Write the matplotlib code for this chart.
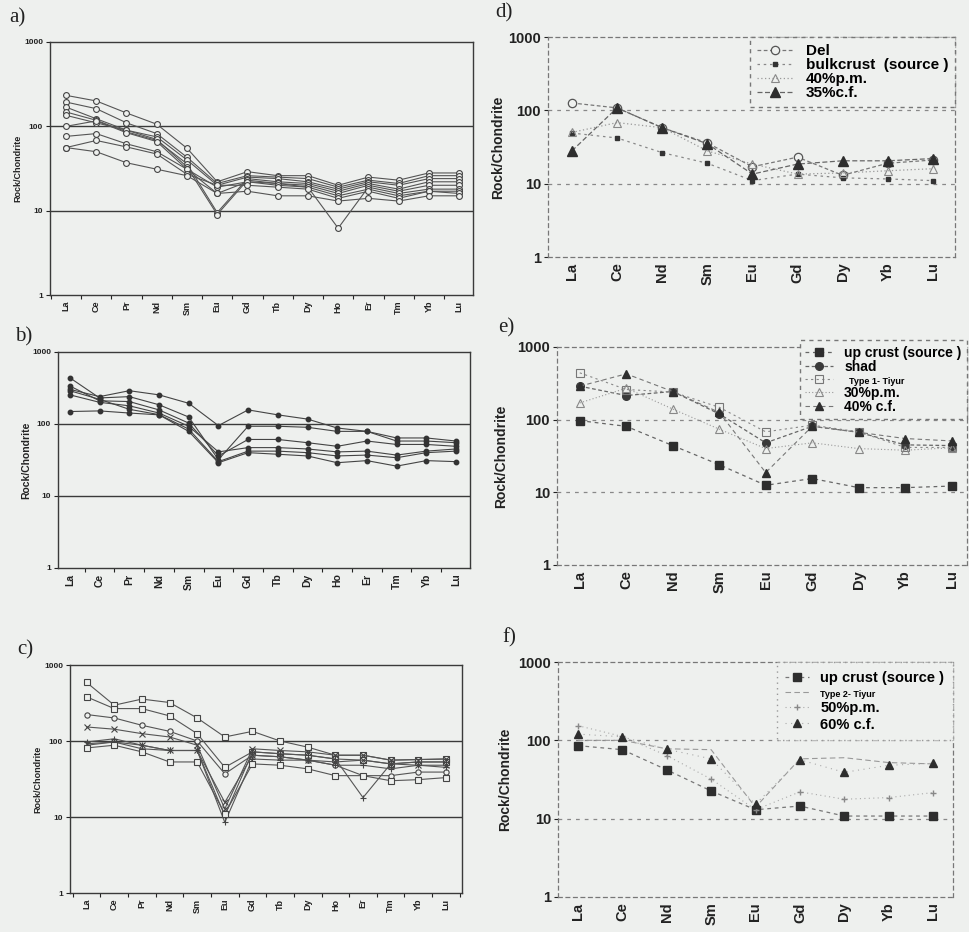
import matplotlib
matplotlib.use("Agg")
import matplotlib.pyplot as plt
from matplotlib.ticker import FixedLocator, FixedFormatter, NullLocator

plt.rcParams["font.family"] = ["Liberation Sans", "DejaVu Sans"]

# ---- data (chondrite-normalised REE) ----
ree14 = ["La", "Ce", "Pr", "Nd", "Sm", "Eu", "Gd", "Tb", "Dy", "Ho", "Er", "Tm", "Yb", "Lu"]
ree9 = ["La", "Ce", "Nd", "Sm", "Eu", "Gd", "Dy", "Yb", "Lu"]

# a) samples
a_samples = [
    [233, 200, 144, 106, 55, 22, 29, 26, 26, 20, 25, 23, 28, 28],
    [194, 162, 110, 82, 43, 21, 26, 25, 24, 19, 23, 21, 26, 26],
    [169, 123, 90, 75, 40, 20, 25, 24, 22, 18, 22, 20, 24, 24],
    [148, 118, 86, 68, 36, 9.5, 24, 22, 21, 17, 21, 18, 22, 22],
    [135, 110, 90, 70, 33, 9.0, 23, 21, 20, 16, 20, 17, 20, 20],
    [100, 116, 84, 66, 31, 16, 22, 21, 19, 6.2, 19, 16, 18, 18],
    [76, 82, 62, 50, 31, 19, 22, 20, 19, 15, 18, 15, 17, 17],
    [56, 68, 57, 47, 27, 20, 20, 19, 18, 14, 17, 14, 17, 16],
    [56, 50, 37, 31, 26, 16, 17, 15, 15, 13, 14, 13, 15, 15],
]

# b) samples
b_samples = [
    [303, 240, 290, 254, 194, 95, 157, 134, 117, 88, 79, 64, 64, 58],
    [438, 230, 240, 185, 125, 32, 93, 93, 90, 79, 79, 58, 58, 55],
    [337, 210, 205, 157, 103, 36, 61, 61, 55, 49, 58, 52, 52, 49],
    [254, 200, 179, 142, 93, 41, 47, 47, 45, 41, 42, 37, 42, 45],
    [290, 220, 160, 135, 85, 30, 42, 42, 40, 36, 37, 34, 40, 42],
    [149, 152, 142, 134, 79, 29, 40, 38, 36, 29, 31, 26, 31, 30],
]

# c) samples and their marker
c_samples = [
    [590, 296, 356, 321, 201, 113, 134, 100, 83, 65, 65, 56, 57, 58],
    [381, 267, 267, 214, 125, 45, 72, 68, 65, 58, 56, 50, 53, 53],
    [223, 201, 161, 134, 100, 37, 65, 62, 56, 48, 35, 35, 39, 39],
    [153, 143, 125, 113, 88, 12.8, 79, 75, 72, 65, 65, 56, 57, 58],
    [97, 107, 88, 75, 75, 10.4, 72, 68, 65, 58, 18, 50, 53, 53],
    [92, 97, 88, 75, 75, 15.6, 65, 62, 56, 53, 56, 50, 48, 48],
    [88, 97, 79, 75, 75, 8.5, 58, 56, 56, 48, 48, 43, 48, 45],
    [81, 88, 72, 53, 53, 11, 50, 48, 43, 35, 35, 30, 31, 33],
]
c_markers = ["s", "s", "o", "x", "+", "x", "+", "s"]

# d) model
d_del = [126, 108, 58, 36, 17, 23, 13, 19, 21]
d_bulkcrust = [49, 42, 26.5, 19, 11, 13.5, 12, 11.6, 11]
d_pm40 = [50, 68, 58, 28, 18.5, 13.5, 14, 15, 16]
d_cf35 = [28, 108, 58, 35, 13.5, 18.5, 20.5, 20.5, 22]

# e) model
e_upcrust = [97, 81, 44, 24, 12.5, 15.5, 11.6, 11.6, 12.2]
e_shad = [289, 215, 244, 120, 48, 81, 67, 45, 44]
e_type1 = [441, 260, 240, 148, 68, 84, 68, 41.5, 41.5]
e_pm30 = [170, 271, 140, 74, 40, 48, 40, 38, 41]
e_cf40 = [289, 427, 244, 126, 18.7, 81, 67, 55, 51]

# f) model
f_upcrust = [85.5, 76, 42, 22.6, 13, 14.5, 10.8, 10.8, 10.8]
f_type2 = [100, 100, 78, 76, 14, 58, 60, 52, 50]
f_pm50 = [154, 112, 64, 32, 13, 22, 17.7, 18.6, 21.5]
f_cf60 = [120, 111, 77, 58, 15.3, 56.5, 39, 48, 51]

BG = "#eef0ee"
INK = "#222222"
W, H = 969, 932


def box(x0, y0, x1, y1):
    return [x0 / W, 1 - y1 / H, (x1 - x0) / W, (y1 - y0) / H]


def setup(ax, names, xlim, style, xt_fs, yt_fs, yl_fs, yl_x):
    ax.set_facecolor("none")
    ax.set_yscale("log")
    ax.set_ylim(1, 1000)
    ax.set_xlim(*xlim)
    n = len(names)
    ax.xaxis.set_major_locator(FixedLocator(range(n)))
    ax.xaxis.set_major_formatter(FixedFormatter(names))
    ax.yaxis.set_major_locator(FixedLocator([1, 10, 100, 1000]))
    ax.yaxis.set_major_formatter(FixedFormatter(["1", "10", "100", "1000"]))
    ax.yaxis.set_minor_locator(NullLocator())
    for lab in ax.get_xticklabels():
        lab.set_rotation(90)
        lab.set_fontweight("bold")
        lab.set_fontsize(xt_fs)
    for lab in ax.get_yticklabels():
        lab.set_fontweight("bold")
        lab.set_fontsize(yt_fs)
    ax.tick_params(axis="x", which="major", length=0, pad=4, colors=INK)
    ax.tick_params(axis="y", which="major", length=3, width=0.8, pad=2, colors=INK)
    ax.set_ylabel("Rock/Chondrite", fontsize=yl_fs, fontweight="bold", color=INK)
    ax.yaxis.set_label_coords(yl_x, 0.5)
    if style == "solid":
        ax.xaxis.set_minor_locator(FixedLocator([i + 0.5 for i in range(-1, n)]))
        ax.tick_params(axis="x", which="minor", length=3, width=0.8, colors=INK)
        for sp in ax.spines.values():
            sp.set_color("#3a3a3a")
            sp.set_linewidth(1.0)
        for v in (10, 100):
            ax.axhline(v, color="#3a3a3a", lw=1.0, zorder=1)
    else:
        ax.xaxis.set_minor_locator(NullLocator())
        for sp in ax.spines.values():
            sp.set_color("#777777")
            sp.set_linewidth(0.9)
            sp.set_linestyle((0, (3, 3)))
        for v in (10, 100):
            ax.axhline(v, color="#888888", lw=0.9, ls=(0, (3, 4)), zorder=1)


def dashed_legend(leg, edge, ls):
    leg.get_frame().set_facecolor(BG)
    leg.get_frame().set_edgecolor(edge)
    leg.get_frame().set_linestyle(ls)


fig = plt.figure(figsize=(W / 100, H / 100), dpi=100)
fig.patch.set_facecolor(BG)

# ---- a) ----
ax = fig.add_axes(box(50, 42, 473, 295))
setup(ax, ree14, (-0.53, 13.46), "solid", 6.5, 6, 6.5, -0.065)
for s in a_samples:
    ax.plot(range(14), s, color="#555555", lw=0.8, marker="o", ms=4.2,
            mfc=BG, mec="#444444", mew=0.8, zorder=3)

# ---- b) ----
ax = fig.add_axes(box(58, 352, 470, 568))
setup(ax, ree14, (-0.4, 13.47), "solid", 7.5, 6, 7.5, -0.065)
for s in b_samples:
    ax.plot(range(14), s, color="#444444", lw=0.8, marker="o", ms=3.2,
            mfc="#333333", mec="#333333", zorder=3)

# ---- c) ----
ax = fig.add_axes(box(70, 665, 462, 893))
setup(ax, ree14, (-0.6, 13.58), "solid", 6.5, 6, 6.5, -0.07)
for s, m in zip(c_samples, c_markers):
    ax.plot(range(14), s, color="#555555", lw=0.8, marker=m, ms=3.8,
            mfc=BG, mec="#444444", mew=0.8, zorder=3)

# ---- d) ----
ax = fig.add_axes(box(548, 37, 955, 257))
setup(ax, ree9, (-0.53, 8.49), "dashed", 10.5, 10.5, 10, -0.105)
x9 = range(9)
ax.plot(x9, d_del, color="#777777", lw=0.9, ls=(0, (3, 2)), marker="o", ms=6,
        mfc=BG, mec="#555555", mew=0.9, label="Del", zorder=3)
ax.plot(x9, d_bulkcrust, color="#888888", lw=0.9, ls=(0, (2, 3)), marker="s", ms=2.5,
        mfc="#333333", mec="#333333", label="bulkcrust  (source )", zorder=3)
ax.plot(x9, d_pm40, color="#999999", lw=0.9, ls=(0, (1, 2)), marker="^", ms=5.5,
        mfc="none", mec="#888888", mew=0.8, label="40%p.m.", zorder=3)
ax.plot(x9, d_cf35, color="#666666", lw=0.9, ls=(0, (4, 2)), marker="^", ms=6.5,
        mfc="#2e2e2e", mec="#2e2e2e", label="35%c.f.", zorder=3)
leg = ax.legend(loc="upper right", bbox_to_anchor=(1, 1), borderaxespad=0,
                prop={"weight": "bold", "size": 11}, handlelength=2.4,
                labelspacing=0.0, borderpad=0.45, fancybox=False, framealpha=1)
dashed_legend(leg, "#777777", (0, (3, 3)))

# ---- e) ----
ax = fig.add_axes(box(557, 347, 967, 565))
setup(ax, ree9, (-0.49, 8.33), "dashed", 10.5, 10.5, 10, -0.12)
ax.plot(x9, e_upcrust, color="#666666", lw=0.9, ls=(0, (3, 3)), marker="s", ms=5.5,
        mfc="#2e2e2e", mec="#2e2e2e", label="up crust (source )", zorder=3)
ax.plot(x9, e_shad, color="#666666", lw=0.9, ls=(0, (3, 2)), marker="o", ms=5.5,
        mfc="#3a3a3a", mec="#3a3a3a", label="shad", zorder=3)
ax.plot(x9, e_type1, color="#888888", lw=0.8, ls=(0, (2, 3)), marker="s", ms=5.5,
        mfc="none", mec="#777777", mew=0.8, label="  Type 1- Tiyur", zorder=3)
ax.plot(x9, e_pm30, color="#999999", lw=0.8, ls=(0, (1, 2)), marker="^", ms=5.5,
        mfc="none", mec="#888888", mew=0.8, label="30%p.m.", zorder=3)
ax.plot(x9, e_cf40, color="#777777", lw=0.8, ls=(0, (4, 3)), marker="^", ms=6,
        mfc="#2e2e2e", mec="#2e2e2e", label="40% c.f.", zorder=3)
leg = ax.legend(loc="upper right", bbox_to_anchor=(1, 1.03), borderaxespad=0,
                prop={"weight": "bold", "size": 10}, handlelength=2.0,
                labelspacing=0.0, borderpad=0.4, fancybox=False, framealpha=1)
leg.get_texts()[2].set_fontsize(6.5)
dashed_legend(leg, "#777777", (0, (3, 3)))

# ---- f) ----
ax = fig.add_axes(box(558, 662, 953, 897))
setup(ax, ree9, (-0.45, 8.45), "dashed", 10.5, 10.5, 10, -0.116)
ax.plot(x9, f_upcrust, color="#777777", lw=0.9, ls=(0, (3, 3)), marker="s", ms=5.5,
        mfc="#2e2e2e", mec="#2e2e2e", label="up crust (source )", zorder=3)
ax.plot(x9, f_type2, color="#999999", lw=0.8, ls=(0, (5, 3)),
        label="Type 2- Tiyur", zorder=2)
ax.plot(x9, f_pm50, color="#aaaaaa", lw=0.8, ls=(0, (1, 3)), marker="+", ms=4,
        mec="#888888", label="50%p.m.", zorder=3)
ax.plot(x9, f_cf60, color="#aaaaaa", lw=0.8, ls=(0, (1, 4)), marker="^", ms=6,
        mfc="#2e2e2e", mec="#2e2e2e", label="60% c.f.", zorder=3)
leg = ax.legend(loc="upper right", bbox_to_anchor=(1, 1), borderaxespad=0,
                prop={"weight": "bold", "size": 10.5}, handlelength=1.6,
                labelspacing=0.15, borderpad=0.6, fancybox=False, framealpha=1)
leg.get_texts()[1].set_fontsize(6.5)
dashed_legend(leg, "#999999", (0, (1, 3)))

# ---- panel letters ----
for lab, px, py in [("a)", 9, 18), ("b)", 15, 337), ("c)", 17, 650),
                    ("d)", 495, 13), ("e)", 498, 328), ("f)", 502, 638)]:
    fig.text(px / W, 1 - py / H, lab, family="Liberation Serif", fontsize=15,
             va="center", ha="left", color=INK)

fig.savefig("out.png", dpi=100, facecolor=BG)
